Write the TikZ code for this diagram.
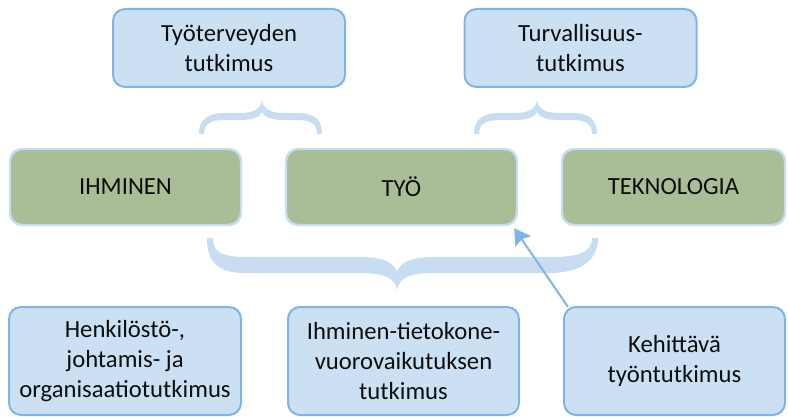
\documentclass[tikz,border=0pt]{standalone}
\usepackage{fontspec}
\setmainfont{Carlito}
\usetikzlibrary{arrows.meta,calc}

\definecolor{bluefill}{RGB}{204,224,244}
\definecolor{blueedge}{RGB}{126,181,230}
\definecolor{greenfill}{RGB}{169,189,150}
\definecolor{greenedge}{RGB}{200,220,242}
\definecolor{bracefill}{RGB}{200,221,242}
\definecolor{txt}{RGB}{13,13,13}

\tikzset{
  bluebox/.style={draw=blueedge, line width=1.5pt, fill=bluefill, rounded corners=9pt,
    minimum width=174pt, minimum height=58.5pt, inner sep=0pt, align=center,
    text=txt, font=\fontsize{18.5}{22.5}\selectfont},
  greenbox/.style={draw=greenedge, line width=1.8pt, fill=greenfill, rounded corners=9pt,
    minimum width=173.25pt, minimum height=57pt, inner sep=0pt, align=center,
    text=txt, font=\fontsize{18.5}{22.5}\selectfont},
  bracepart/.style={fill=bracefill, draw=none},
  arrowline/.style={draw=blueedge, line width=1.5pt, -{Stealth[length=12pt,width=14pt,inset=2pt]}}
}

\begin{document}
\begin{tikzpicture}[x=0.75pt,y=0.75pt,yscale=-1,xscale=1]
\useasboundingbox (0,0) rectangle (788,417);

%Shape: Brace
\fill[bracepart] (199,134) .. controls (199,120) and (207,113) .. (225,113) -- (240,113) .. controls (255,113) and (261,108) .. (262,100) .. controls (263,108) and (269,113) .. (284,113) -- (297,113) .. controls (315,113) and (322,120) .. (322,134) -- (317,134) .. controls (317,124) and (311,120) .. (297,120) -- (284,120) .. controls (271,120) and (264,117) .. (262,112) .. controls (260,117) and (253,120) .. (240,120) -- (225,120) .. controls (210,120) and (204,124) .. (204,134) -- cycle ;
%Shape: Brace
\fill[bracepart] (474,134) .. controls (474,120) and (482,113) .. (500,113) -- (515,113) .. controls (530,113) and (536,108) .. (537,100) .. controls (538,108) and (544,113) .. (559,113) -- (572,113) .. controls (590,113) and (597,120) .. (597,134) -- (592,134) .. controls (592,124) and (586,120) .. (572,120) -- (559,120) .. controls (546,120) and (539,117) .. (537,112) .. controls (535,117) and (528,120) .. (515,120) -- (500,120) .. controls (485,120) and (479,124) .. (479,134) -- cycle ;
%Shape: Brace
\fill[bracepart] (207,238) .. controls (207,262) and (218,273) .. (245,273) -- (360,273) .. controls (385,273) and (395,278) .. (397,290) .. controls (399,278) and (409,273) .. (434,273) -- (550,273) .. controls (578,273) and (598,262) .. (598,238) -- (592,238) .. controls (592,252) and (580,257) .. (550,257) -- (434,257) .. controls (412,257) and (400,262) .. (397,272) .. controls (394,262) and (382,257) .. (360,257) -- (245,257) .. controls (222,257) and (213,252) .. (213,238) -- cycle ;

% Text Node
\node[bluebox] (tyoterveys) at (229,48) {Työterveyden\\tutkimus};
% Text Node
\node[bluebox] (turvallisuus) at (580.5,48) {Turvallisuus-\\tutkimus};
% Text Node
\node[greenbox] (ihminen) at (125.5,187) {IHMINEN};
% Text Node
\node[greenbox] (tyo) at (401.5,187) {TYÖ};
% Text Node
\node[greenbox, minimum width=167.25pt] (teknologia) at (673.5,187) {TEKNOLOGIA};
% Text Node
\node[bluebox, minimum height=81pt] (henkilosto) at (125,361) {Henkilöstö-,\\johtamis- ja\\organisaatiotutkimus};
% Text Node
\node[bluebox, minimum height=81pt, minimum width=173.25pt] (vuorovaikutus) at (403.5,361) {Ihminen-tietokone-\\vuorovaikutuksen\\tutkimus};
% Text Node
\node[bluebox, minimum height=81pt, minimum width=165.75pt] (kehittava) at (674.5,361) {Kehittävä\\työntutkimus};

%Straight Lines
\draw[arrowline] ($(kehittava.north west)+(5,1)$) -- ($(tyo.south east)+(-4,2)$) ;
\end{tikzpicture}
\end{document}
